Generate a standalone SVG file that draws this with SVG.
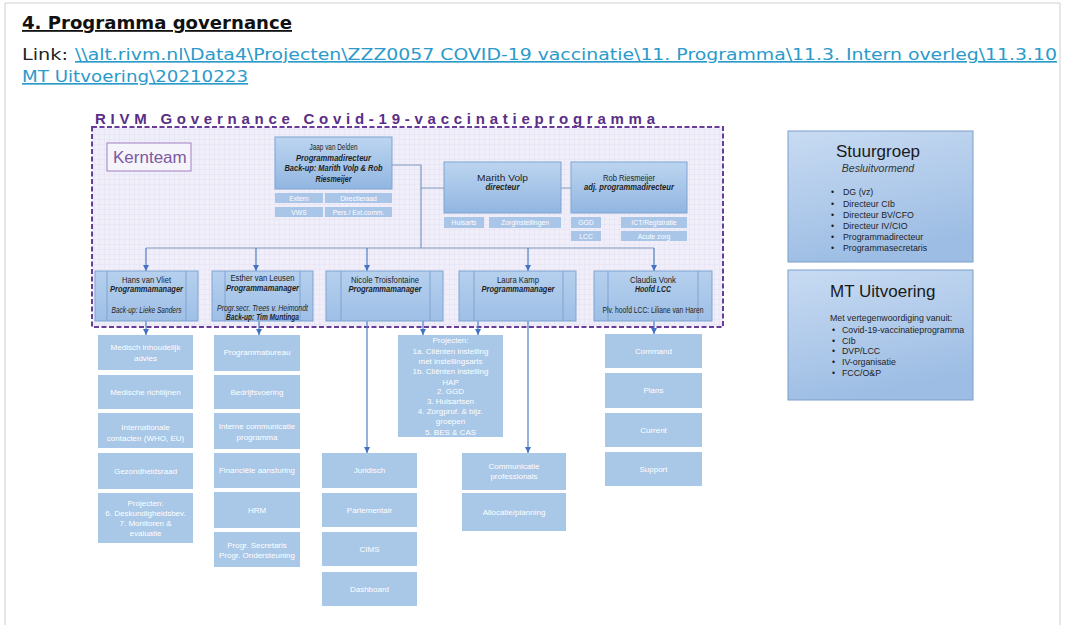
<svg xmlns="http://www.w3.org/2000/svg" width="1065" height="625" viewBox="0 0 1065 625">
<defs>
<style>
text{font-family:"Liberation Sans",Arial,sans-serif}
.hd{font-family:"DejaVu Sans",Verdana,sans-serif}
.lnk{fill:#2a9acb;text-decoration:underline}
.mgr{fill:url(#gM);stroke:#7fa3d1;stroke-width:1}
.pl{stroke:#7fa3d1;stroke-width:1}
.nm{font-size:8.5px;fill:#1f1f1f;text-anchor:middle}
.bi{font-weight:bold;font-style:italic}
.it{font-style:italic}
.sb{fill:#a9c6e8}
.sbt{font-size:6.8px;fill:#fff;text-anchor:middle}
.lb{fill:#a9c7e7}
.lbt{font-size:8px;fill:#fff;text-anchor:middle}
.cn{stroke:#4f7fc4;stroke-width:1.2;fill:none}
.bus{stroke:#7f98bd;stroke-width:1.2;fill:none}
.bx{fill:url(#gR);stroke:#7b9ecb;stroke-width:1}
.rt{font-size:8.8px;fill:#1e1e1e}
</style>
<linearGradient id="gM" x1="0" y1="0" x2="0" y2="1"><stop offset="0" stop-color="#b6d0ee"/><stop offset="1" stop-color="#9ebfe6"/></linearGradient>
<linearGradient id="gJ" x1="0" y1="0" x2="0" y2="1"><stop offset="0" stop-color="#bcd5f0"/><stop offset="1" stop-color="#92b6e1"/></linearGradient>
<linearGradient id="gR" x1="0" y1="0" x2="0.3" y2="1"><stop offset="0" stop-color="#c8dbf2"/><stop offset="1" stop-color="#9dbde4"/></linearGradient>
<pattern id="grid" width="5" height="5" patternUnits="userSpaceOnUse"><rect width="5" height="5" fill="#efeef9"/><path d="M5 0V5H0" fill="none" stroke="#dddbef" stroke-width="0.6"/></pattern>
<marker id="ah" viewBox="0 0 10 10" refX="10" refY="5" markerWidth="5" markerHeight="5" orient="auto"><path d="M0 0L10 5L0 10z" fill="#4472c4"/></marker>
</defs>
<rect width="1065" height="625" fill="#fff"/>
<path d="M5 625V3H1060V625" fill="none" stroke="#cfcfcf" stroke-width="1"/>

<g id="header">
<text class="hd" x="22" y="29" font-size="18" font-weight="bold" fill="#111" textLength="270" lengthAdjust="spacingAndGlyphs" text-decoration="underline">4. Programma governance</text>
<text class="hd" x="22" y="60" font-size="16.5" fill="#222" textLength="46" lengthAdjust="spacingAndGlyphs">Link: </text>
<text class="hd lnk" x="75" y="60" font-size="16.5" textLength="982" lengthAdjust="spacingAndGlyphs">\\alt.rivm.nl\Data4\Projecten\ZZZ0057 COVID-19 vaccinatie\11. Programma\11.3. Intern overleg\11.3.10</text>
<text class="hd lnk" x="22" y="82" font-size="16.5" textLength="226" lengthAdjust="spacingAndGlyphs">MT Uitvoering\20210223</text>
</g>

<g id="title">
<text x="95" y="124" font-size="15" font-weight="bold" fill="#5a2d86" textLength="560" lengthAdjust="spacing">RIVM Governance Covid-19-vaccinatieprogramma</text>
</g>

<g id="kernteam-frame">
<rect x="92" y="127" width="631" height="200" fill="url(#grid)" stroke="#6a3c9a" stroke-width="2" stroke-dasharray="5,2.5"/>
</g>
<g id="kernteam-label">
<rect x="107" y="143" width="84" height="28" fill="#f6f4fb" stroke="#a07fc4" stroke-width="1"/>
<text x="113" y="163" font-size="17" fill="#7a5aa0">Kernteam</text>
</g>

<g id="connectors">
<path class="bus" d="M392 165H421V248"/>
<path class="bus" d="M421 188H444M561 188H571"/>
<path class="bus" d="M146 248H654"/>
<path class="cn" d="M146 248V271" marker-end="url(#ah)"/>
<path class="cn" d="M256 248V271" marker-end="url(#ah)"/>
<path class="cn" d="M367 248V271" marker-end="url(#ah)"/>
<path class="cn" d="M528 248V271" marker-end="url(#ah)"/>
<path class="cn" d="M654 248V271" marker-end="url(#ah)"/>
<path class="cn" d="M146 321V335" marker-end="url(#ah)"/>
<path class="cn" d="M259 321V335" marker-end="url(#ah)"/>
<path class="cn" d="M367 321V453" marker-end="url(#ah)"/>
<path class="cn" d="M423 321V335" marker-end="url(#ah)"/>
<path class="cn" d="M478 321V335" marker-end="url(#ah)"/>
<path class="cn" d="M528 321V453" marker-end="url(#ah)"/>
<path class="cn" d="M654 321V334" marker-end="url(#ah)"/>
</g>

<g id="jaap">
<rect x="275" y="137" width="117" height="52" fill="url(#gJ)" stroke="#7fa3d1"/>
<text class="nm" x="333.5" y="150" textLength="48" lengthAdjust="spacingAndGlyphs">Jaap van Delden</text>
<text class="nm bi" x="333.5" y="161" textLength="75" lengthAdjust="spacingAndGlyphs">Programmadirecteur</text>
<text class="nm bi" x="333.5" y="171" textLength="98" lengthAdjust="spacingAndGlyphs">Back-up: Marith Volp &amp; Rob</text>
<text class="nm bi" x="333.5" y="182" textLength="36" lengthAdjust="spacingAndGlyphs">Riesmeijer</text>
<rect class="sb" x="275" y="193" width="48" height="10"/>
<text class="sbt" x="299" y="200.5">Extern</text>
<rect class="sb" x="325" y="193" width="67" height="10"/>
<text class="sbt" x="358.5" y="200.5">Directieraad</text>
<rect class="sb" x="275" y="207" width="48" height="10"/>
<text class="sbt" x="299" y="214.5">VWS</text>
<rect class="sb" x="325" y="207" width="67" height="10"/>
<text class="sbt" x="358.5" y="214.5">Pers / Ext.comm.</text>
</g>

<g id="marith">
<rect x="444" y="162" width="117" height="51" fill="url(#gJ)" stroke="#7fa3d1"/>
<text class="nm" x="502.5" y="181" textLength="51" lengthAdjust="spacingAndGlyphs">Marith Volp</text>
<text class="nm bi" x="502.5" y="190" textLength="34" lengthAdjust="spacingAndGlyphs">directeur</text>
<rect class="sb" x="444" y="217" width="40" height="11"/>
<text class="sbt" x="464" y="225">Huisarts</text>
<rect class="sb" x="489" y="217" width="72" height="11"/>
<text class="sbt" x="525" y="225">Zorginstellingen</text>
</g>

<g id="rob">
<rect x="571" y="162" width="116" height="51" fill="url(#gJ)" stroke="#7fa3d1"/>
<text class="nm" x="629" y="181" textLength="52" lengthAdjust="spacingAndGlyphs">Rob Riesmeijer</text>
<text class="nm bi" x="629" y="190" textLength="90" lengthAdjust="spacingAndGlyphs">adj. programmadirecteur</text>
<rect class="sb" x="571" y="217" width="30" height="11"/>
<text class="sbt" x="586" y="225">GGD</text>
<rect class="sb" x="621" y="217" width="66" height="11"/>
<text class="sbt" x="654" y="225">ICT/Registratie</text>
<rect class="sb" x="571" y="231" width="30" height="10"/>
<text class="sbt" x="586" y="238.5">LCC</text>
<rect class="sb" x="621" y="231" width="66" height="10"/>
<text class="sbt" x="654" y="238.5">Acute zorg</text>
</g>

<g id="hans">
<rect class="mgr" x="95" y="271" width="103" height="50"/>
<path class="pl" d="M107 271V321M186 271V321"/>
<text class="nm" x="146.5" y="283" textLength="49" lengthAdjust="spacingAndGlyphs">Hans van Vliet</text>
<text class="nm bi" x="146.5" y="292" textLength="73" lengthAdjust="spacingAndGlyphs">Programmamanager</text>
<text class="nm it" x="146.5" y="313" textLength="70" lengthAdjust="spacingAndGlyphs">Back-up: Lieke Sanders</text>
</g>
<g id="esther">
<rect class="mgr" x="212" y="271" width="101" height="50"/>
<path class="pl" d="M225 271V321M300 271V321"/>
<text class="nm" x="262.5" y="281" textLength="64" lengthAdjust="spacingAndGlyphs">Esther van Leusen</text>
<text class="nm bi" x="262.5" y="291" textLength="73" lengthAdjust="spacingAndGlyphs">Programmamanager</text>
<text class="nm it" x="262.5" y="311" textLength="91" lengthAdjust="spacingAndGlyphs">Progr.secr. Trees v. Heimondt</text>
<text class="nm bi" x="262.5" y="320" textLength="73" lengthAdjust="spacingAndGlyphs">Back-up: Tim Muntinga</text>
</g>
<g id="nicole">
<rect class="mgr" x="326" y="271" width="117" height="50"/>
<path class="pl" d="M341 271V321M430 271V321"/>
<text class="nm" x="385" y="283" textLength="68" lengthAdjust="spacingAndGlyphs">Nicole Troisfontaine</text>
<text class="nm bi" x="385" y="292" textLength="73" lengthAdjust="spacingAndGlyphs">Programmamanager</text>
</g>
<g id="laura">
<rect class="mgr" x="459" y="271" width="117" height="50"/>
<path class="pl" d="M474 271V321M563 271V321"/>
<text class="nm" x="518" y="283" textLength="42" lengthAdjust="spacingAndGlyphs">Laura Kamp</text>
<text class="nm bi" x="518" y="292" textLength="73" lengthAdjust="spacingAndGlyphs">Programmamanager</text>
</g>
<g id="claudia">
<rect class="mgr" x="594" y="271" width="118" height="50"/>
<path class="pl" d="M608 271V321M698 271V321"/>
<text class="nm" x="653" y="283" textLength="46" lengthAdjust="spacingAndGlyphs">Claudia Vonk</text>
<text class="nm bi" x="653" y="292" textLength="36" lengthAdjust="spacingAndGlyphs">Hoofd LCC</text>
<text class="nm" x="653" y="313" textLength="101" lengthAdjust="spacingAndGlyphs">Plv. hoofd LCC: Liliane van Haren</text>
</g>

<g id="col-hans">
<rect class="lb" x="98" y="335" width="95" height="35"/>
<text class="lbt" x="145.5" y="349.5">Medisch inhoudelijk</text>
<text class="lbt" x="145.5" y="360.5">advies</text>
<rect class="lb" x="98" y="375" width="95" height="34"/>
<text class="lbt" x="145.5" y="395">Medische richtlijnen</text>
<rect class="lb" x="98" y="413" width="95" height="35"/>
<text class="lbt" x="145.5" y="430">Internationale</text>
<text class="lbt" x="145.5" y="440.5">contacten (WHO, EU)</text>
<rect class="lb" x="98" y="453" width="95" height="36"/>
<text class="lbt" x="145.5" y="474">Gezondheidsraad</text>
<rect class="lb" x="98" y="493" width="95" height="50"/>
<text class="lbt" x="145.5" y="506">Projecten:</text>
<text class="lbt" x="145.5" y="516">6. Deskundigheidsbev.</text>
<text class="lbt" x="145.5" y="526">7. Monitoren &amp;</text>
<text class="lbt" x="145.5" y="536">evaluatie</text>
</g>

<g id="col-esther">
<rect class="lb" x="214" y="335" width="86" height="36"/>
<text class="lbt" x="257" y="355">Programmabureau</text>
<rect class="lb" x="214" y="375" width="86" height="34"/>
<text class="lbt" x="257" y="395">Bedrijfsvoering</text>
<rect class="lb" x="214" y="413" width="86" height="36"/>
<text class="lbt" x="257" y="429">Interne communicatie</text>
<text class="lbt" x="257" y="440">programma</text>
<rect class="lb" x="214" y="453" width="86" height="35"/>
<text class="lbt" x="257" y="473">Financiële aansturing</text>
<rect class="lb" x="214" y="492" width="86" height="36"/>
<text class="lbt" x="257" y="513">HRM</text>
<rect class="lb" x="214" y="532" width="86" height="35"/>
<text class="lbt" x="257" y="548">Progr. Secretaris</text>
<text class="lbt" x="257" y="557.5">Progr. Ondersteuning</text>
</g>

<g id="col-nicole">
<rect class="lb" x="322" y="453" width="95" height="35"/>
<text class="lbt" x="369.5" y="473">Juridisch</text>
<rect class="lb" x="322" y="493" width="95" height="34"/>
<text class="lbt" x="369.5" y="513">Parlementair</text>
<rect class="lb" x="322" y="532" width="95" height="34"/>
<text class="lbt" x="369.5" y="552">CIMS</text>
<rect class="lb" x="322" y="572" width="95" height="34"/>
<text class="lbt" x="369.5" y="592">Dashboard</text>
</g>

<g id="projecten">
<rect class="lb" x="398" y="335" width="105" height="102"/>
<text class="lbt" x="450.5" y="343">Projecten:</text>
<text class="lbt" x="450.5" y="353.5">1a. Cliënten instelling</text>
<text class="lbt" x="450.5" y="364">met instellingsarts</text>
<text class="lbt" x="450.5" y="374">1b. Cliënten instelling</text>
<text class="lbt" x="450.5" y="384.5">HAP</text>
<text class="lbt" x="450.5" y="394">2. GGD</text>
<text class="lbt" x="450.5" y="404">3. Huisartsen</text>
<text class="lbt" x="450.5" y="414">4. Zorgprof. &amp; bijz.</text>
<text class="lbt" x="450.5" y="424">groepen</text>
<text class="lbt" x="450.5" y="435">5. BES &amp; CAS</text>
</g>

<g id="col-laura">
<rect class="lb" x="462" y="453" width="104" height="37"/>
<text class="lbt" x="514" y="469">Communicatie</text>
<text class="lbt" x="514" y="479">professionals</text>
<rect class="lb" x="462" y="493" width="104" height="38"/>
<text class="lbt" x="514" y="515">Allocatie/planning</text>
</g>

<g id="col-claudia">
<rect class="lb" x="605" y="334" width="97" height="34"/>
<text class="lbt" x="653.5" y="354">Command</text>
<rect class="lb" x="605" y="373" width="97" height="35"/>
<text class="lbt" x="653.5" y="393">Plans</text>
<rect class="lb" x="605" y="413" width="97" height="34"/>
<text class="lbt" x="653.5" y="433">Current</text>
<rect class="lb" x="605" y="452" width="97" height="34"/>
<text class="lbt" x="653.5" y="472">Support</text>
</g>

<g id="stuurgroep">
<rect class="bx" x="788" y="131" width="185" height="131"/>
<text x="878" y="157" font-size="17" fill="#1a1a1a" text-anchor="middle">Stuurgroep</text>
<text x="878" y="172" font-size="10.5" font-style="italic" fill="#333" text-anchor="middle">Besluitvormend</text>
<g class="rt">
<text x="831" y="195">•</text><text x="843" y="195">DG (vz)</text>
<text x="831" y="207">•</text><text x="843" y="207">Directeur CIb</text>
<text x="831" y="218">•</text><text x="843" y="218">Directeur BV/CFO</text>
<text x="831" y="229">•</text><text x="843" y="229">Directeur IV/CIO</text>
<text x="831" y="240">•</text><text x="843" y="240">Programmadirecteur</text>
<text x="831" y="251">•</text><text x="843" y="251">Programmasecretaris</text>
</g>
</g>

<g id="mt-uitvoering">
<rect class="bx" x="788" y="270" width="185" height="130"/>
<text x="830" y="297" font-size="17" fill="#1a1a1a">MT Uitvoering</text>
<g class="rt">
<text x="830" y="321">Met vertegenwoordiging vanuit:</text>
<text x="832" y="333">•</text><text x="842" y="333">Covid-19-vaccinatieprogramma</text>
<text x="832" y="343.5">•</text><text x="842" y="343.5">CIb</text>
<text x="832" y="354">•</text><text x="842" y="354">DVP/LCC</text>
<text x="832" y="365">•</text><text x="842" y="365">IV-organisatie</text>
<text x="832" y="375.5">•</text><text x="842" y="375.5">FCC/O&amp;P</text>
</g>
</g>
</svg>
